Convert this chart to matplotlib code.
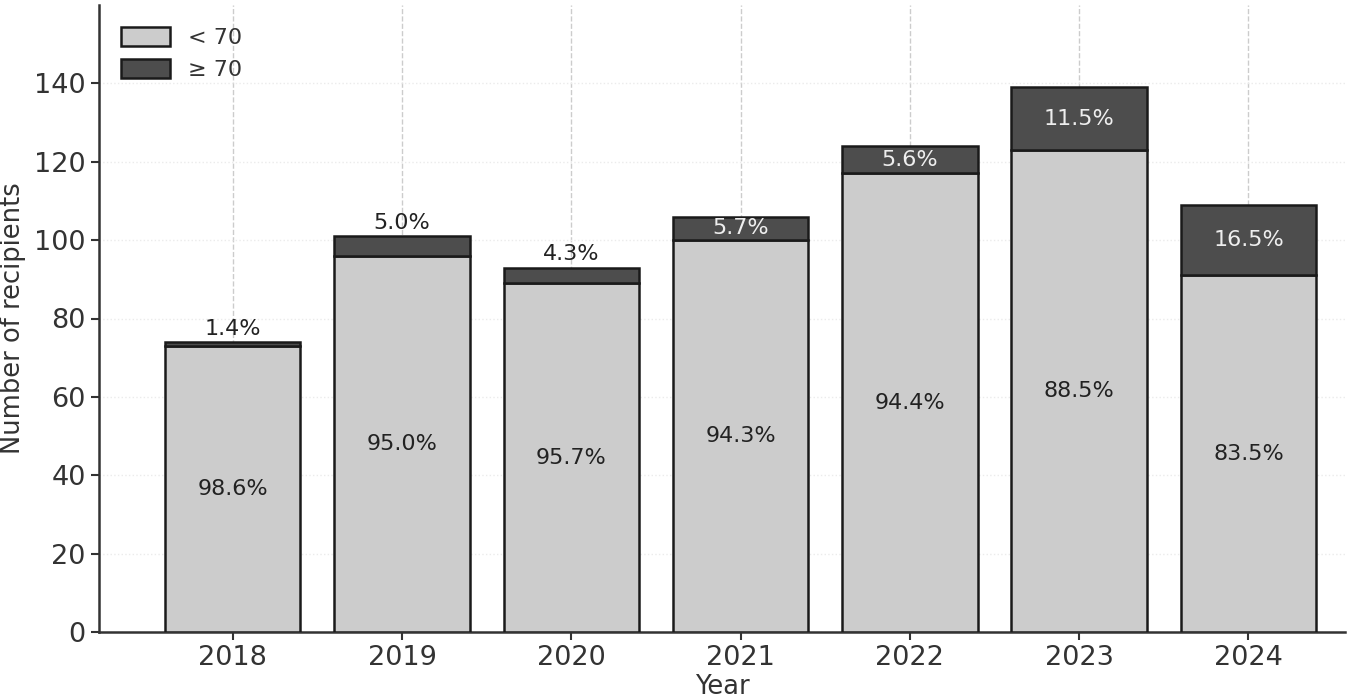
import matplotlib.pyplot as plt
import numpy as np

years = ['2018', '2019', '2020', '2021', '2022', '2023', '2024']
under_70 = np.array([73, 96, 89, 100, 117, 123, 91])
over_70 = np.array([1, 5, 4, 6, 7, 16, 18])

total = under_70 + over_70
pct_under = under_70 / total * 100
pct_over = over_70 / total * 100

text_col = '#333333'
plt.rcParams['font.family'] = 'DejaVu Sans'

fig = plt.figure(figsize=(13.49, 7.0), dpi=100)
ax = fig.add_axes([0.0734, 0.097, 0.9236, 0.896])

x = np.arange(len(years))
ax.bar(x, under_70, width=0.8, color='#cccccc', edgecolor='#1a1a1a', linewidth=1.8, label='< 70', zorder=3)
ax.bar(x, over_70, width=0.8, bottom=under_70, color='#4d4d4d', edgecolor='#1a1a1a', linewidth=1.8, label='≥ 70', zorder=3)

for i in range(len(years)):
    ax.text(x[i], under_70[i] / 2, f"{pct_under[i]:.1f}%", ha='center', va='center',
            fontsize=16, color='#222222', zorder=4)
    if over_70[i] < 6:
        # segment too thin, label above the bar
        ax.text(x[i], total[i] + 0.8, f"{pct_over[i]:.1f}%", ha='center', va='bottom',
                fontsize=16, color='#222222', zorder=4)
    else:
        ax.text(x[i], under_70[i] + over_70[i] / 2, f"{pct_over[i]:.1f}%", ha='center', va='center',
                fontsize=16, color='#eeeeee', zorder=4)

ax.set_xticks(x)
ax.set_xticklabels(years)
ax.set_xlim(-0.79, 6.57)
ax.set_ylim(0, 160)
ax.set_yticks(np.arange(0, 141, 20))

ax.set_xlabel('Year', fontsize=18.5, color=text_col, labelpad=2)
ax.set_ylabel('Number of recipients', fontsize=18.5, color=text_col, labelpad=6)
ax.tick_params(axis='both', labelsize=19.5, colors=text_col, width=1.5, length=6)

ax.spines['top'].set_visible(False)
ax.spines['right'].set_visible(False)
for s in ['left', 'bottom']:
    ax.spines[s].set_color(text_col)
    ax.spines[s].set_linewidth(1.8)

ax.grid(axis='x', linestyle='--', color='#cccccc', linewidth=1, zorder=0)
ax.grid(axis='y', linestyle=':', color='#ebebeb', linewidth=1, zorder=0)

leg = ax.legend(loc='upper left', fontsize=16, frameon=False, handlelength=2.2, handleheight=0.9,
                labelcolor=text_col, borderaxespad=0.6, labelspacing=0.5)

fig.savefig('out.png', dpi=100)
